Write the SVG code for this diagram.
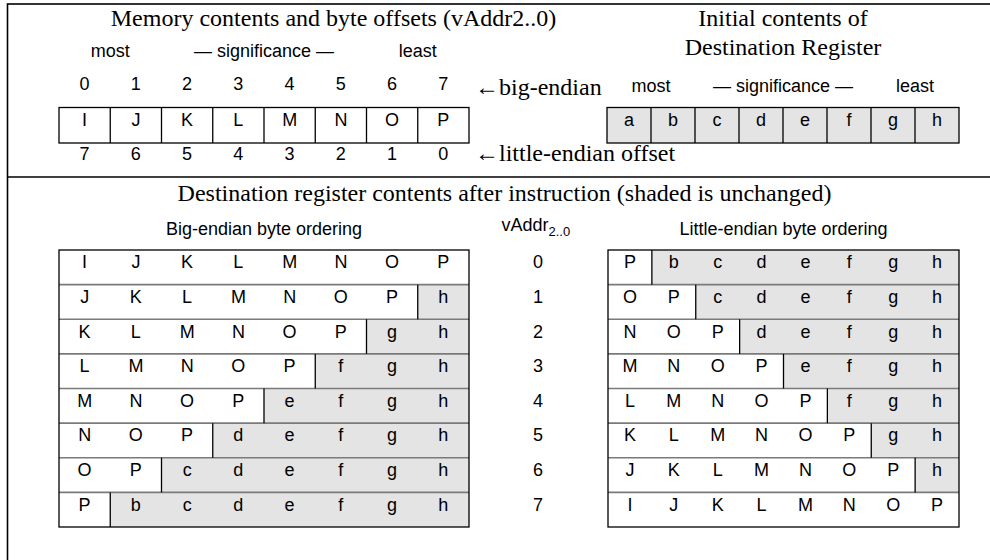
<svg xmlns="http://www.w3.org/2000/svg" width="990" height="560" viewBox="0 0 990 560">
<style>
.ser{font-family:"Liberation Serif","Times New Roman",serif;font-size:24px;fill:#000}
.sans{font-family:"Liberation Sans",Arial,sans-serif;font-size:18px;fill:#000}
.c{text-anchor:middle}
.sub{font-size:13px}
.frame{fill:none;stroke:#000;stroke-width:1.6}
.box{fill:none;stroke:#000;stroke-width:1.3}
.shade{fill:#e4e4e4;stroke:none}
.div{stroke:#000;stroke-width:1.3}
.sep{stroke:#7a7a7a;stroke-width:1.6}
</style>

<g id="frame">
  <rect class="frame" x="7.5" y="4" width="990" height="600"/>
  <line class="frame" x1="7.5" y1="177" x2="990" y2="177"/>
</g>

<g id="memory">
  <text class="ser c" x="333.5" y="26">Memory contents and byte offsets (vAddr2..0)</text>
  <g class="sans c">
    <text x="110.25" y="57">most</text>
    <text x="264" y="57">— significance —</text>
    <text x="417.75" y="57">least</text>
    <text x="84.625" y="90">0</text><text x="135.875" y="90">1</text><text x="187.125" y="90">2</text><text x="238.375" y="90">3</text>
    <text x="289.625" y="90">4</text><text x="340.875" y="90">5</text><text x="392.125" y="90">6</text><text x="443.375" y="90">7</text>
    <text x="84.625" y="126">I</text><text x="135.875" y="126">J</text><text x="187.125" y="126">K</text><text x="238.375" y="126">L</text>
    <text x="289.625" y="126">M</text><text x="340.875" y="126">N</text><text x="392.125" y="126">O</text><text x="443.375" y="126">P</text>
    <text x="84.625" y="160">7</text><text x="135.875" y="160">6</text><text x="187.125" y="160">5</text><text x="238.375" y="160">4</text>
    <text x="289.625" y="160">3</text><text x="340.875" y="160">2</text><text x="392.125" y="160">1</text><text x="443.375" y="160">0</text>
  </g>
  <rect class="box" x="59" y="107.5" width="410" height="35.5"/>
  <g class="div">
    <line x1="110.25" y1="107.5" x2="110.25" y2="143"/><line x1="161.5" y1="107.5" x2="161.5" y2="143"/>
    <line x1="212.75" y1="107.5" x2="212.75" y2="143"/><line x1="264" y1="107.5" x2="264" y2="143"/>
    <line x1="315.25" y1="107.5" x2="315.25" y2="143"/><line x1="366.5" y1="107.5" x2="366.5" y2="143"/>
    <line x1="417.75" y1="107.5" x2="417.75" y2="143"/>
  </g>
  <text class="ser" x="475" y="95">←big-endian</text>
  <text class="ser" x="475" y="161">←little-endian offset</text>
</g>

<g id="register">
  <text class="ser c" x="783" y="26">Initial contents of</text>
  <text class="ser c" x="783" y="55">Destination Register</text>
  <g class="sans c">
    <text x="651" y="92">most</text>
    <text x="783" y="92">— significance —</text>
    <text x="915" y="92">least</text>
  </g>
  <rect class="shade" x="607" y="107.5" width="352" height="35.5"/>
  <rect class="box" x="607" y="107.5" width="352" height="35.5"/>
  <g class="div">
    <line x1="651" y1="107.5" x2="651" y2="143"/><line x1="695" y1="107.5" x2="695" y2="143"/>
    <line x1="739" y1="107.5" x2="739" y2="143"/><line x1="783" y1="107.5" x2="783" y2="143"/>
    <line x1="827" y1="107.5" x2="827" y2="143"/><line x1="871" y1="107.5" x2="871" y2="143"/>
    <line x1="915" y1="107.5" x2="915" y2="143"/>
  </g>
  <g class="sans c">
    <text x="629" y="126">a</text><text x="673" y="126">b</text><text x="717" y="126">c</text><text x="761" y="126">d</text>
    <text x="805" y="126">e</text><text x="849" y="126">f</text><text x="893" y="126">g</text><text x="937" y="126">h</text>
  </g>
</g>

<g id="result-title">
  <text class="ser c" x="504.5" y="201">Destination register contents after instruction (shaded is unchanged)</text>
</g>

<g id="big-endian">
  <text class="sans c" x="264" y="235">Big-endian byte ordering</text>
  <g>
    <rect class="shade" x="417.75" y="284.625" width="51.25" height="34.625"/>
    <rect class="shade" x="366.5" y="319.25" width="102.5" height="34.625"/>
    <rect class="shade" x="315.25" y="353.875" width="153.75" height="34.625"/>
    <rect class="shade" x="264" y="388.5" width="205" height="34.625"/>
    <rect class="shade" x="212.75" y="423.125" width="256.25" height="34.625"/>
    <rect class="shade" x="161.5" y="457.75" width="307.5" height="34.625"/>
    <rect class="shade" x="110.25" y="492.375" width="358.75" height="34.625"/>
  </g>
  <g class="sep">
    <line x1="59" y1="284.625" x2="469" y2="284.625"/><line x1="59" y1="319.25" x2="469" y2="319.25"/>
    <line x1="59" y1="353.875" x2="469" y2="353.875"/><line x1="59" y1="388.5" x2="469" y2="388.5"/>
    <line x1="59" y1="423.125" x2="469" y2="423.125"/><line x1="59" y1="457.75" x2="469" y2="457.75"/>
    <line x1="59" y1="492.375" x2="469" y2="492.375"/>
  </g>
  <g class="div">
    <line x1="417.75" y1="284.625" x2="417.75" y2="319.25"/>
    <line x1="366.5" y1="319.25" x2="366.5" y2="353.875"/>
    <line x1="315.25" y1="353.875" x2="315.25" y2="388.5"/>
    <line x1="264" y1="388.5" x2="264" y2="423.125"/>
    <line x1="212.75" y1="423.125" x2="212.75" y2="457.75"/>
    <line x1="161.5" y1="457.75" x2="161.5" y2="492.375"/>
    <line x1="110.25" y1="492.375" x2="110.25" y2="527"/>
  </g>
  <rect class="box" x="59" y="250" width="410" height="277"/>
  <g class="sans c">
    <text x="84.625" y="268.3">I</text><text x="135.875" y="268.3">J</text><text x="187.125" y="268.3">K</text><text x="238.375" y="268.3">L</text><text x="289.625" y="268.3">M</text><text x="340.875" y="268.3">N</text><text x="392.125" y="268.3">O</text><text x="443.375" y="268.3">P</text>
    <text x="84.625" y="302.9">J</text><text x="135.875" y="302.9">K</text><text x="187.125" y="302.9">L</text><text x="238.375" y="302.9">M</text><text x="289.625" y="302.9">N</text><text x="340.875" y="302.9">O</text><text x="392.125" y="302.9">P</text><text x="443.375" y="302.9">h</text>
    <text x="84.625" y="337.55">K</text><text x="135.875" y="337.55">L</text><text x="187.125" y="337.55">M</text><text x="238.375" y="337.55">N</text><text x="289.625" y="337.55">O</text><text x="340.875" y="337.55">P</text><text x="392.125" y="337.55">g</text><text x="443.375" y="337.55">h</text>
    <text x="84.625" y="372.2">L</text><text x="135.875" y="372.2">M</text><text x="187.125" y="372.2">N</text><text x="238.375" y="372.2">O</text><text x="289.625" y="372.2">P</text><text x="340.875" y="372.2">f</text><text x="392.125" y="372.2">g</text><text x="443.375" y="372.2">h</text>
    <text x="84.625" y="406.8">M</text><text x="135.875" y="406.8">N</text><text x="187.125" y="406.8">O</text><text x="238.375" y="406.8">P</text><text x="289.625" y="406.8">e</text><text x="340.875" y="406.8">f</text><text x="392.125" y="406.8">g</text><text x="443.375" y="406.8">h</text>
    <text x="84.625" y="441.4">N</text><text x="135.875" y="441.4">O</text><text x="187.125" y="441.4">P</text><text x="238.375" y="441.4">d</text><text x="289.625" y="441.4">e</text><text x="340.875" y="441.4">f</text><text x="392.125" y="441.4">g</text><text x="443.375" y="441.4">h</text>
    <text x="84.625" y="476.05">O</text><text x="135.875" y="476.05">P</text><text x="187.125" y="476.05">c</text><text x="238.375" y="476.05">d</text><text x="289.625" y="476.05">e</text><text x="340.875" y="476.05">f</text><text x="392.125" y="476.05">g</text><text x="443.375" y="476.05">h</text>
    <text x="84.625" y="510.7">P</text><text x="135.875" y="510.7">b</text><text x="187.125" y="510.7">c</text><text x="238.375" y="510.7">d</text><text x="289.625" y="510.7">e</text><text x="340.875" y="510.7">f</text><text x="392.125" y="510.7">g</text><text x="443.375" y="510.7">h</text>
  </g>
</g>

<g id="vaddr">
  <text class="sans" x="501.5" y="230.5">vAddr<tspan class="sub" dy="5">2..0</tspan></text>
  <g class="sans c">
    <text x="538" y="268.3">0</text><text x="538" y="302.9">1</text><text x="538" y="337.55">2</text><text x="538" y="372.2">3</text>
    <text x="538" y="406.8">4</text><text x="538" y="441.4">5</text><text x="538" y="476.05">6</text><text x="538" y="510.7">7</text>
  </g>
</g>

<g id="little-endian">
  <text class="sans c" x="783.5" y="235">Little-endian byte ordering</text>
  <g>
    <rect class="shade" x="651.875" y="250" width="307.125" height="34.625"/>
    <rect class="shade" x="695.75" y="284.625" width="263.25" height="34.625"/>
    <rect class="shade" x="739.625" y="319.25" width="219.375" height="34.625"/>
    <rect class="shade" x="783.5" y="353.875" width="175.5" height="34.625"/>
    <rect class="shade" x="827.375" y="388.5" width="131.625" height="34.625"/>
    <rect class="shade" x="871.25" y="423.125" width="87.75" height="34.625"/>
    <rect class="shade" x="915.125" y="457.75" width="43.875" height="34.625"/>
  </g>
  <g class="sep">
    <line x1="608" y1="284.625" x2="959" y2="284.625"/><line x1="608" y1="319.25" x2="959" y2="319.25"/>
    <line x1="608" y1="353.875" x2="959" y2="353.875"/><line x1="608" y1="388.5" x2="959" y2="388.5"/>
    <line x1="608" y1="423.125" x2="959" y2="423.125"/><line x1="608" y1="457.75" x2="959" y2="457.75"/>
    <line x1="608" y1="492.375" x2="959" y2="492.375"/>
  </g>
  <g class="div">
    <line x1="651.875" y1="250" x2="651.875" y2="284.625"/>
    <line x1="695.75" y1="284.625" x2="695.75" y2="319.25"/>
    <line x1="739.625" y1="319.25" x2="739.625" y2="353.875"/>
    <line x1="783.5" y1="353.875" x2="783.5" y2="388.5"/>
    <line x1="827.375" y1="388.5" x2="827.375" y2="423.125"/>
    <line x1="871.25" y1="423.125" x2="871.25" y2="457.75"/>
    <line x1="915.125" y1="457.75" x2="915.125" y2="492.375"/>
  </g>
  <rect class="box" x="608" y="250" width="351" height="277"/>
  <g class="sans c">
    <text x="629.94" y="268.3">P</text><text x="673.81" y="268.3">b</text><text x="717.69" y="268.3">c</text><text x="761.56" y="268.3">d</text><text x="805.44" y="268.3">e</text><text x="849.31" y="268.3">f</text><text x="893.19" y="268.3">g</text><text x="937.06" y="268.3">h</text>
    <text x="629.94" y="302.9">O</text><text x="673.81" y="302.9">P</text><text x="717.69" y="302.9">c</text><text x="761.56" y="302.9">d</text><text x="805.44" y="302.9">e</text><text x="849.31" y="302.9">f</text><text x="893.19" y="302.9">g</text><text x="937.06" y="302.9">h</text>
    <text x="629.94" y="337.55">N</text><text x="673.81" y="337.55">O</text><text x="717.69" y="337.55">P</text><text x="761.56" y="337.55">d</text><text x="805.44" y="337.55">e</text><text x="849.31" y="337.55">f</text><text x="893.19" y="337.55">g</text><text x="937.06" y="337.55">h</text>
    <text x="629.94" y="372.2">M</text><text x="673.81" y="372.2">N</text><text x="717.69" y="372.2">O</text><text x="761.56" y="372.2">P</text><text x="805.44" y="372.2">e</text><text x="849.31" y="372.2">f</text><text x="893.19" y="372.2">g</text><text x="937.06" y="372.2">h</text>
    <text x="629.94" y="406.8">L</text><text x="673.81" y="406.8">M</text><text x="717.69" y="406.8">N</text><text x="761.56" y="406.8">O</text><text x="805.44" y="406.8">P</text><text x="849.31" y="406.8">f</text><text x="893.19" y="406.8">g</text><text x="937.06" y="406.8">h</text>
    <text x="629.94" y="441.4">K</text><text x="673.81" y="441.4">L</text><text x="717.69" y="441.4">M</text><text x="761.56" y="441.4">N</text><text x="805.44" y="441.4">O</text><text x="849.31" y="441.4">P</text><text x="893.19" y="441.4">g</text><text x="937.06" y="441.4">h</text>
    <text x="629.94" y="476.05">J</text><text x="673.81" y="476.05">K</text><text x="717.69" y="476.05">L</text><text x="761.56" y="476.05">M</text><text x="805.44" y="476.05">N</text><text x="849.31" y="476.05">O</text><text x="893.19" y="476.05">P</text><text x="937.06" y="476.05">h</text>
    <text x="629.94" y="510.7">I</text><text x="673.81" y="510.7">J</text><text x="717.69" y="510.7">K</text><text x="761.56" y="510.7">L</text><text x="805.44" y="510.7">M</text><text x="849.31" y="510.7">N</text><text x="893.19" y="510.7">O</text><text x="937.06" y="510.7">P</text>
  </g>
</g>
</svg>
